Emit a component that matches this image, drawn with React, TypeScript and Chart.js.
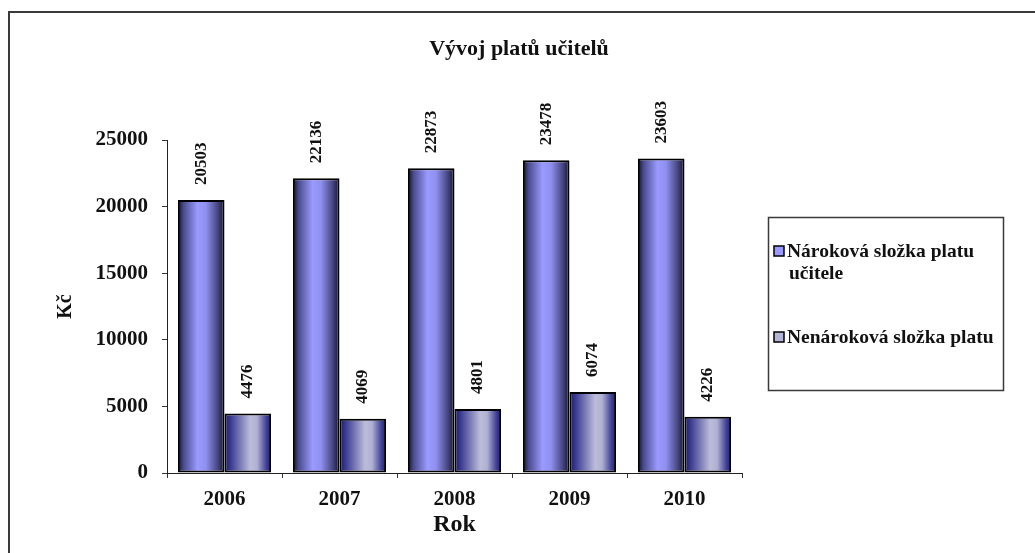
import { useEffect, useRef } from "react";
import { Chart, registerables } from "chart.js";

Chart.register(...registerables);

// Data
const years = ["2006", "2007", "2008", "2009", "2010"];
const claimSalary = [20503, 22136, 22873, 23478, 23603];
const bonusSalary = [4476, 4069, 4801, 6074, 4226];
const claimLabel = ["Nároková složka platu", "učitele"];
const bonusLabel = ["Nenároková složka platu"];
const chartTitle = "Vývoj platů učitelů";
const xAxisTitle = "Rok";
const yAxisTitle = "Kč";
const yMax = 25000;
const yStep = 5000;

const FONT = "'Liberation Serif', 'Times New Roman', serif";
const CAT_PCT = 0.81;
const W = 1023;
const H = 538;

const claimStops: [number, string][] = [
  [0, "#101024"],
  [0.12, "#4a4a8e"],
  [0.42, "#9a9aff"],
  [0.6, "#9090f0"],
  [0.86, "#44447e"],
  [1, "#12122a"],
];
const bonusStops: [number, string][] = [
  [0, "#181866"],
  [0.15, "#404096"],
  [0.55, "#bcbcda"],
  [0.7, "#b0b0d2"],
  [0.9, "#404096"],
  [1, "#1e1e76"],
];

// Horizontal gradient across each bar, located from the category scale
function barFill(stops: [number, string][], fallback: string) {
  return (ctx: any) => {
    const chart = ctx.chart;
    const xs = chart.scales && chart.scales.x;
    if (!xs || !chart.chartArea || ctx.dataIndex == null) return fallback;
    const center = xs.getPixelForValue(ctx.dataIndex);
    const cat = (xs.right - xs.left) / years.length;
    const bw = (cat * CAT_PCT) / 2;
    const left = ctx.datasetIndex === 0 ? center - bw : center;
    const g = chart.ctx.createLinearGradient(left, 0, left + bw, 0);
    stops.forEach(([o, c]) => g.addColorStop(o, c));
    return g;
  };
}

// Rotated value labels above each bar
const valueLabels = {
  id: "valueLabels",
  afterDatasetsDraw(chart: any) {
    const { ctx } = chart;
    ctx.save();
    ctx.font = `bold 17px ${FONT}`;
    ctx.fillStyle = "#111";
    chart.data.datasets.forEach((ds: any, di: number) => {
      const meta = chart.getDatasetMeta(di);
      meta.data.forEach((el: any, i: number) => {
        ctx.save();
        ctx.translate(el.x, el.y - 15);
        ctx.rotate(-Math.PI / 2);
        ctx.textAlign = "left";
        ctx.textBaseline = "middle";
        ctx.fillText(String(ds.data[i]), 0, 0);
        ctx.restore();
      });
    });
    ctx.restore();
  },
};

// Chart title and boxed legend on the right
const titleAndLegend = {
  id: "titleAndLegend",
  afterDraw(chart: any) {
    const { ctx } = chart;
    ctx.save();
    ctx.fillStyle = "#111";
    ctx.font = `bold 22px ${FONT}`;
    ctx.textAlign = "center";
    ctx.textBaseline = "middle";
    ctx.fillText(chartTitle, 509, 36);

    ctx.strokeStyle = "#3a3a3a";
    ctx.lineWidth = 1.5;
    ctx.strokeRect(758.5, 204.5, 235, 173);

    const entries = [
      { lines: claimLabel, color: "#9999ff", y: 233 },
      { lines: bonusLabel, color: "#b4b4d8", y: 319 },
    ];
    ctx.font = `bold 19.5px ${FONT}`;
    ctx.textAlign = "left";
    ctx.textBaseline = "alphabetic";
    entries.forEach((e) => {
      ctx.fillStyle = e.color;
      ctx.fillRect(764, e.y, 10, 10);
      ctx.strokeStyle = "#000";
      ctx.lineWidth = 1.5;
      ctx.strokeRect(764, e.y, 10, 10);
      ctx.fillStyle = "#111";
      e.lines.forEach((t, li) => {
        ctx.fillText(t, 777 + (li > 0 ? 2 : 0), e.y + 11 + li * 22);
      });
    });
    ctx.restore();
  },
};

export default function App() {
  const ref = useRef<HTMLCanvasElement>(null);

  useEffect(() => {
    if (!ref.current) return;
    const chart = new Chart(ref.current, {
      type: "bar",
      data: {
        labels: years,
        datasets: [
          {
            label: claimLabel.join(" "),
            data: claimSalary,
            backgroundColor: barFill(claimStops, "#9999ff"),
            borderColor: "#000",
            borderWidth: 2,
            borderSkipped: false,
            categoryPercentage: CAT_PCT,
            barPercentage: 1,
          },
          {
            label: bonusLabel.join(" "),
            data: bonusSalary,
            backgroundColor: barFill(bonusStops, "#b4b4d8"),
            borderColor: "#000",
            borderWidth: 2,
            borderSkipped: false,
            categoryPercentage: CAT_PCT,
            barPercentage: 1,
          },
        ],
      },
      options: {
        responsive: false,
        animation: false,
        layout: { padding: { top: 127, left: 0, right: W - 732, bottom: 0 } },
        plugins: {
          legend: { display: false },
          tooltip: { enabled: false },
          title: { display: false },
        },
        scales: {
          x: {
            afterFit: (s: any) => {
              s.height = 78;
            },
            grid: {
              display: true,
              drawOnChartArea: false,
              drawTicks: true,
              tickLength: 5,
              color: "#333",
              offset: true,
            },
            border: { display: true, color: "#222", width: 1 },
            ticks: {
              color: "#111",
              padding: 9,
              font: { family: FONT, size: 21, weight: "bold" },
            },
            title: {
              display: true,
              text: xAxisTitle,
              color: "#111",
              font: { family: FONT, size: 24, weight: "bold" },
              padding: { top: 0, bottom: 12 },
            },
          },
          y: {
            min: 0,
            max: yMax,
            afterFit: (s: any) => {
              s.width = 157;
            },
            grid: {
              display: true,
              drawOnChartArea: false,
              drawTicks: true,
              tickLength: 5,
              color: "#333",
            },
            border: { display: true, color: "#222", width: 1 },
            ticks: {
              stepSize: yStep,
              color: "#111",
              padding: 14,
              font: { family: FONT, size: 21, weight: "bold" },
              callback: (v: any) => String(v),
            },
            title: {
              display: true,
              text: yAxisTitle,
              color: "#111",
              font: { family: FONT, size: 20, weight: "bold" },
              padding: { top: 44, bottom: 0 },
            },
          },
        },
      },
      plugins: [valueLabels, titleAndLegend],
    });
    return () => chart.destroy();
  }, []);

  return (
    <div
      style={{
        position: "absolute",
        left: 8,
        top: 11,
        width: W + 4,
        height: H + 4,
        borderTop: "2px solid #3a3a3a",
        borderLeft: "2px solid #3a3a3a",
        background: "#fff",
      }}
    >
      <canvas ref={ref} width={W} height={H} style={{ display: "block" }} />
    </div>
  );
}
